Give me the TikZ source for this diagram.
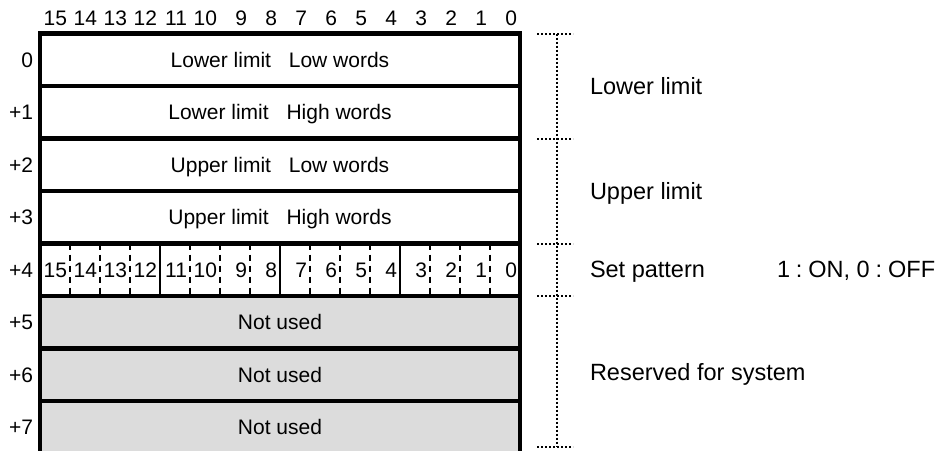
\documentclass[tikz,border=0pt]{standalone}
\usepackage{fontspec}
\setmainfont{Liberation Sans}
\definecolor{unusedgray}{RGB}{220,220,220}
\begin{document}
\begin{tikzpicture}[x=1pt, y=-1pt,
    every node/.style={inner sep=0pt, outer sep=0pt},
    wordrow/.style={draw, line width=4.5pt, minimum width=480pt, minimum height=52.5pt, font=\fontsize{21}{25}\selectfont, text height=15pt, text depth=0pt},
    unused/.style={wordrow, fill=unusedgray},
    bitnum/.style={text width=24pt, align=right, inner xsep=3pt, font=\fontsize{21}{25}\selectfont, text height=15pt, text depth=0pt},
    offset/.style={anchor=east, font=\fontsize{21}{25}\selectfont, text height=15pt, text depth=0pt},
    note/.style={anchor=west, font=\fontsize{23.5}{28}\selectfont, text height=16.8pt, text depth=0pt},
    bracket/.style={line width=2pt, dash pattern=on 2pt off 2pt},
    divider/.style={line width=2pt},
    halfdiv/.style={divider, line width=2.3pt, dash pattern=on 6pt off 5pt}]
    \useasboundingbox (0,0) rectangle (950,450);
    \clip (0,0) rectangle (950,450);
    % words of the table
    \node[wordrow] (r0) at (280, 59.75) {Lower limit\hspace{0.85em}Low words};
    \node[wordrow] (r1) at (280, 112.25) {Lower limit\hspace{0.85em}High words};
    \node[wordrow] (r2) at (280, 164.75) {Upper limit\hspace{0.85em}Low words};
    \node[wordrow] (r3) at (280, 217.25) {Upper limit\hspace{0.85em}High words};
    \node[wordrow] (r4) at (280, 269.75) {};
    \node[unused] (r5) at (280, 322.25) {Not used};
    \node[unused] (r6) at (280, 374.75) {Not used};
    \node[unused] (r7) at (280, 427.25) {Not used};
    % offsets and bit numbers
    \foreach \k/\lab in {0/0, 1/+1, 2/+2, 3/+3, 4/+4, 5/+5, 6/+6, 7/+7}
        \node[offset] (o\k) at (33, {59.75+52.5*\k}) {\lab};
    \foreach \b in {15,...,0} {
        \node[bitnum] (h\b) at ({505-30*\b}, 18) {\b};
        \node[bitnum, minimum height=52.5pt] (p\b) at ({505-30*\b}, 269.75) {\b};
    }
    \foreach \b in {15,14,13,11,10,9,7,6,5,3,2,1}
        \draw[halfdiv] (p\b.north east) -- (p\b.south east);
    \foreach \b in {12,8,4}
        \draw[divider] (p\b.north east) -- (p\b.south east);
    % dotted bracket
    \coordinate (k0) at (557, 33.5);
    \coordinate (k2) at (557, 138.5);
    \coordinate (k4) at (557, 243.5);
    \coordinate (k5) at (557, 296);
    \coordinate (k8) at (557, 447);
    \draw[bracket] (k0) -- (k8);
    \foreach \k in {k0,k2,k4,k5,k8}
        \draw[bracket] ([xshift=-20pt]\k) -- ([xshift=16pt]\k);
    \node[note] (lower) at (590, 86) {Lower limit};
    \node[note] (upper) at (590, 191) {Upper limit};
    \node[note] (pattern) at (590, 269) {Set pattern};
    \node[note] (onoff) at (777, 269) {1\makebox[0.78em]{:}ON, 0\makebox[0.78em]{:}OFF};
    \node[note] (system) at (590, 372) {Reserved for system};
\end{tikzpicture}
\end{document}
